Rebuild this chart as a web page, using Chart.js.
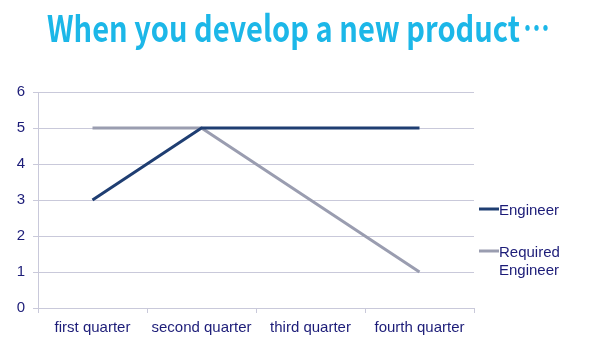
<!DOCTYPE html>
<html><head><meta charset="utf-8">
<script src="https://cdn.jsdelivr.net/npm/chart.js@4/dist/chart.umd.min.js"></script>
<style>html,body{margin:0;padding:0;background:#fff}#wrap{width:600px;height:361px;position:relative}</style>
</head><body><div id="wrap"><canvas id="c" width="600" height="361"></canvas></div>
<script>
const titleMain = "When you develop a new product";
const titleEnd = "\u2026";
const categories = ["first quarter", "second quarter", "third quarter", "fourth quarter"];
const seriesNames = ["Engineer", "Required Engineer"];
const engineer = [3, 5, 5, 5];
const requiredEngineer = [5, 5, 3, 1];
const yTicks = [0, 1, 2, 3, 4, 5, 6];

const navy = '#1c1c78';
const gridCol = '#c9c9da';

const titlePlugin = {
  id: 'centerTitle',
  afterDraw(chart) {
    const ctx = chart.ctx;
    ctx.save();
    ctx.font = 'bold 36px "Noto Sans CJK JP", "Open Sans", sans-serif';
    ctx.fillStyle = '#1cb7e8';
    ctx.textAlign = 'left';
    ctx.textBaseline = 'alphabetic';
    const w = ctx.measureText(titleMain).width;
    const sx = 473 / w;
    ctx.save();
    ctx.translate(47, 42);
    ctx.scale(sx, 1);
    ctx.fillText(titleMain, 0, 0);
    ctx.restore();
    const we = ctx.measureText(titleEnd).width;
    ctx.save();
    ctx.translate(523, 42);
    ctx.scale(27 / we, 1);
    ctx.fillText(titleEnd, 0, 0);
    ctx.restore();
    ctx.restore();
  }
};

const legendPlugin = {
  id: 'sideLegend',
  afterDraw(chart) {
    const ctx = chart.ctx;
    ctx.save();
    ctx.font = '15px "Liberation Sans", Arial, sans-serif';
    ctx.textBaseline = 'middle';
    const x0 = chart.chartArea.right + 5;
    let y = 211;
    chart.data.datasets.forEach(ds => {
      const words = ds.label.split(' ');
      const lines = [];
      let cur = '';
      words.forEach(w => {
        const t = cur ? cur + ' ' + w : w;
        if (ctx.measureText(t).width > 95 && cur) { lines.push(cur); cur = w; } else cur = t;
      });
      lines.push(cur);
      ctx.strokeStyle = ds.borderColor;
      ctx.lineWidth = 3;
      ctx.beginPath();
      ctx.moveTo(x0, y - 2);
      ctx.lineTo(x0 + 20, y - 2);
      ctx.stroke();
      ctx.fillStyle = navy;
      lines.forEach((l, i) => ctx.fillText(l, x0 + 20, y + i * 18));
      y += 42;
    });
    ctx.restore();
  }
};

new Chart(document.getElementById('c'), {
  type: 'line',
  data: {
    labels: categories,
    datasets: [
      { label: seriesNames[0], data: engineer, borderColor: '#1f3e72', borderWidth: 3, pointRadius: 0, tension: 0, fill: false },
      { label: seriesNames[1], data: requiredEngineer, borderColor: '#9a9db0', borderWidth: 3, pointRadius: 0, tension: 0, fill: false }
    ]
  },
  options: {
    responsive: false,
    animation: false,
    layout: { padding: { left: 0, right: 126, top: 92, bottom: 0 } },
    plugins: {
      legend: { display: false },
      tooltip: { enabled: false },
      title: { display: false }
    },
    scales: {
      x: {
        offset: true,
        grid: { offset: true, drawOnChartArea: false, drawTicks: true, tickLength: 5, color: gridCol },
        border: { color: gridCol, width: 1 },
        ticks: { color: navy, font: { family: '"Liberation Sans", Arial, sans-serif', size: 15 }, padding: 6, maxRotation: 0, autoSkip: false },
        afterFit(s) { s.height = 53; }
      },
      y: {
        min: yTicks[0], max: yTicks[yTicks.length - 1],
        afterBuildTicks(s) { s.ticks = yTicks.map(v => ({ value: v })); },
        grid: { color: gridCol, tickLength: 5 },
        border: { color: gridCol, width: 1 },
        ticks: { color: navy, font: { family: '"Liberation Sans", Arial, sans-serif', size: 15 }, padding: 8 },
        afterFit(s) { s.width = 38; }
      }
    }
  },
  plugins: [titlePlugin, legendPlugin]
});
</script></body></html>
